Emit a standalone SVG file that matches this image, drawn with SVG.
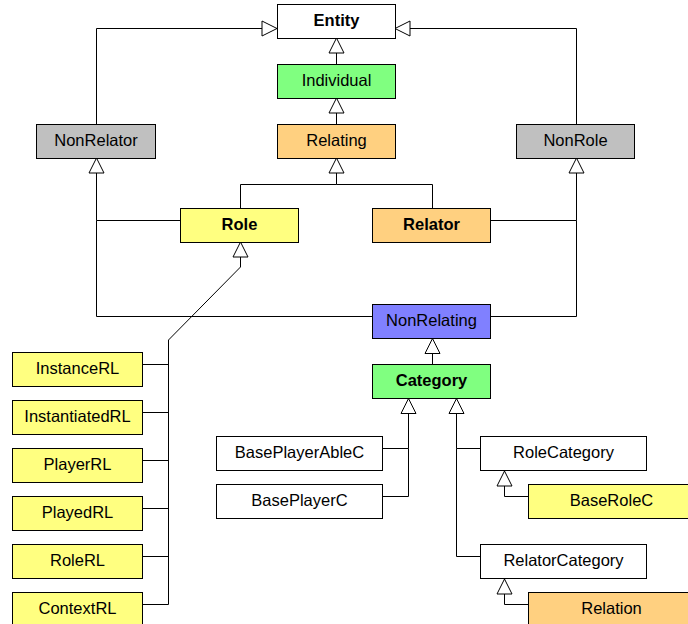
<svg xmlns="http://www.w3.org/2000/svg" width="688" height="624" viewBox="0 0 688 624">
<style>
.box{stroke:#000;stroke-width:1}
.w{fill:#fff}.g{fill:#80ff80}.o{fill:#ffd080}.y{fill:#ffff80}.gr{fill:#c0c0c0}.b{fill:#8080ff}
text{font-family:"Liberation Sans",Arial,sans-serif;font-size:16.5px;text-anchor:middle;fill:#000}
.bold{font-weight:bold}
.ln{fill:none;stroke:#000;stroke-width:1}
</style>
<defs>
<marker id="tri" markerUnits="userSpaceOnUse" markerWidth="17" markerHeight="17" refX="15" refY="7.5" orient="auto" overflow="visible">
<path d="M0,0 L15,7.5 L0,15 Z" fill="#fff" stroke="#000" stroke-width="1"/>
</marker>
</defs>
<rect width="688" height="624" fill="#fff"/>
<g id="connectors">
<path class="ln" d="M96.5,124 V28.5 H277" marker-end="url(#tri)"/>
<path class="ln" d="M576.5,124 V28.5 H395" marker-end="url(#tri)"/>
<path class="ln" d="M336.5,64 V38" marker-end="url(#tri)"/>
<path class="ln" d="M336.5,124 V98" marker-end="url(#tri)"/>
<path class="ln" d="M240.5,208 V184.5 H336.5 V158" marker-end="url(#tri)"/>
<path class="ln" d="M432.5,208 V184.5 H336.5"/>
<path class="ln" d="M180,220.5 H96.5 V158" marker-end="url(#tri)"/>
<path class="ln" d="M372,316.5 H96.5 V220.5"/>
<path class="ln" d="M491,220.5 H576.5 V158" marker-end="url(#tri)"/>
<path class="ln" d="M491,316.5 H576.5 V220.5"/>
<path class="ln" d="M168.5,604.5 V340 L240.5,267 V242" marker-end="url(#tri)"/>
<path class="ln" d="M142.5,364.5 H168.5 M142.5,412.5 H168.5 M142.5,460.5 H168.5 M142.5,508.5 H168.5 M142.5,556.5 H168.5 M142.5,604.5 H168.5"/>
<path class="ln" d="M432.5,364 V338.5" marker-end="url(#tri)"/>
<path class="ln" d="M383,448.5 H408.5 V398.5" marker-end="url(#tri)"/>
<path class="ln" d="M383,496.5 H408.5 V448.5"/>
<path class="ln" d="M480,448.5 H456.5 V398.5" marker-end="url(#tri)"/>
<path class="ln" d="M480,556.5 H456.5 V448.5"/>
<path class="ln" d="M528,496.5 H504.5 V471" marker-end="url(#tri)"/>
<path class="ln" d="M528,604.5 H504.5 V579" marker-end="url(#tri)"/>
</g>
<g id="Entity"><rect class="box w" x="277.5" y="4.5" width="118" height="34"/><text class="bold" x="336.5" y="25.5">Entity</text></g>
<g id="Individual"><rect class="box g" x="277.5" y="64.5" width="118" height="34"/><text x="336.5" y="85.5">Individual</text></g>
<g id="Relating"><rect class="box o" x="277.5" y="124.5" width="118" height="34"/><text x="336.5" y="145.5">Relating</text></g>
<g id="NonRelator"><rect class="box gr" x="36.5" y="124.5" width="119" height="34"/><text x="96" y="145.5">NonRelator</text></g>
<g id="NonRole"><rect class="box gr" x="516.5" y="124.5" width="118" height="34"/><text x="575.5" y="145.5">NonRole</text></g>
<g id="Role"><rect class="box y" x="180.5" y="208.5" width="118" height="34"/><text class="bold" x="239.5" y="229.5">Role</text></g>
<g id="Relator"><rect class="box o" x="372.5" y="208.5" width="118" height="34"/><text class="bold" x="431.5" y="229.5">Relator</text></g>
<g id="NonRelating"><rect class="box b" x="372.5" y="304.5" width="118" height="34"/><text x="431.5" y="325.5">NonRelating</text></g>
<g id="Category"><rect class="box g" x="372.5" y="364.5" width="118" height="34"/><text class="bold" x="431.5" y="385.5">Category</text></g>
<g id="InstanceRL"><rect class="box y" x="12.5" y="352.5" width="130" height="34"/><text x="77.5" y="373.5">InstanceRL</text></g>
<g id="InstantiatedRL"><rect class="box y" x="12.5" y="400.5" width="130" height="34"/><text x="77.5" y="421.5">InstantiatedRL</text></g>
<g id="PlayerRL"><rect class="box y" x="12.5" y="448.5" width="130" height="34"/><text x="77.5" y="469.5">PlayerRL</text></g>
<g id="PlayedRL"><rect class="box y" x="12.5" y="496.5" width="130" height="34"/><text x="77.5" y="517.5">PlayedRL</text></g>
<g id="RoleRL"><rect class="box y" x="12.5" y="544.5" width="130" height="34"/><text x="77.5" y="565.5">RoleRL</text></g>
<g id="ContextRL"><rect class="box y" x="12.5" y="592.5" width="130" height="34"/><text x="77.5" y="613.5">ContextRL</text></g>
<g id="BasePlayerAbleC"><rect class="box w" x="216.5" y="436.5" width="166" height="34"/><text x="299.5" y="457.5">BasePlayerAbleC</text></g>
<g id="BasePlayerC"><rect class="box w" x="216.5" y="484.5" width="166" height="34"/><text x="299.5" y="505.5">BasePlayerC</text></g>
<g id="RoleCategory"><rect class="box w" x="480.5" y="436.5" width="166" height="34"/><text x="563.5" y="457.5">RoleCategory</text></g>
<g id="RelatorCategory"><rect class="box w" x="480.5" y="544.5" width="166" height="34"/><text x="563.5" y="565.5">RelatorCategory</text></g>
<g id="BaseRoleC"><rect class="box y" x="528.5" y="484.5" width="166" height="34"/><text x="611.5" y="505.5">BaseRoleC</text></g>
<g id="Relation"><rect class="box o" x="528.5" y="592.5" width="166" height="34"/><text x="611.5" y="613.5">Relation</text></g>
</svg>
